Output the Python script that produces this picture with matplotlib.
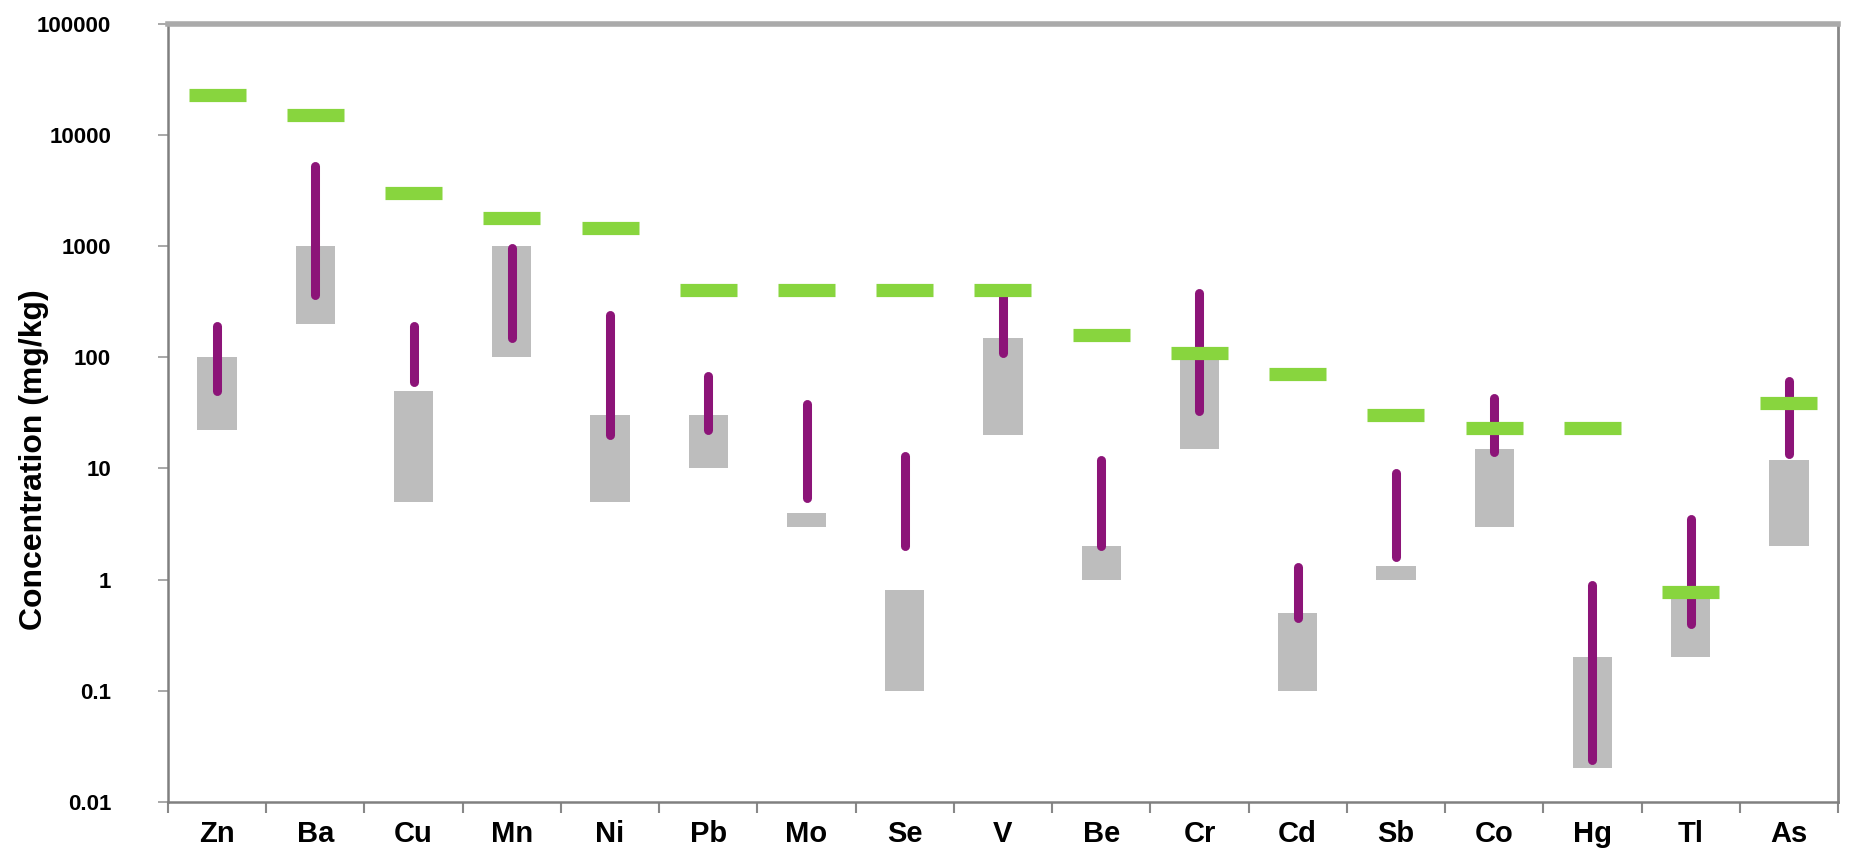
import matplotlib
matplotlib.use("Agg")
import matplotlib.pyplot as plt
import numpy as np

plt.rcParams['font.family'] = ['Liberation Sans', 'DejaVu Sans']

elements = ['Zn', 'Ba', 'Cu', 'Mn', 'Ni', 'Pb', 'Mo', 'Se', 'V', 'Be', 'Cr', 'Cd', 'Sb', 'Co', 'Hg', 'Tl', 'As']

# grey range bars (low, high)
gray_lo = [22, 200, 5, 100, 5, 10, 3, 0.1, 20, 1, 15, 0.1, 1, 3, 0.02, 0.2, 2]
gray_hi = [100, 1000, 50, 1000, 30, 30, 4, 0.8, 150, 2, 100, 0.5, 1.33, 15, 0.2, 0.7, 12]

# purple range lines (low, high)
purp_lo = [50, 360, 60, 150, 20, 22, 5.4, 2, 110, 2, 33, 0.45, 1.6, 14, 0.024, 0.4, 13.6]
purp_hi = [190, 5200, 190, 950, 240, 68, 38, 13, 390, 12, 380, 1.3, 9, 43, 0.9, 3.5, 61]

# green guideline values
green = [23000, 15000, 3000, 1800, 1450, 400, 400, 400, 400, 160, 110, 70, 30, 23, 23, 0.78, 39]

ytick_vals = [0.01, 0.1, 1, 10, 100, 1000, 10000, 100000]
ytick_labels = ['0.01', '0.1', '1', '10', '100', '1000', '10000', '100000']

fig = plt.figure(figsize=(18.5, 8.59), dpi=100)
ax = fig.add_axes([0.0908, 0.0664, 0.9027, 0.9061])

x = np.arange(len(elements))
lo = np.array(gray_lo)
hi = np.array(gray_hi)
ax.bar(x, hi - lo, bottom=lo, width=0.4, color='#bdbdbd', zorder=2)

ax.vlines(x, purp_lo, purp_hi, color='#8c1478', linewidth=6.5, capstyle='round', zorder=3)

ax.hlines(green, x - 0.29, x + 0.29, color='#88d53e', linewidth=9.5, zorder=4)

ax.set_yscale('log')
ax.set_ylim(0.01, 100000)
ax.set_xlim(-0.5, len(elements) - 0.5)
ax.set_yticks(ytick_vals)
ax.set_yticklabels(ytick_labels)
ax.yaxis.set_minor_locator(matplotlib.ticker.NullLocator())

ax.set_xticks(x)
ax.set_xticklabels(elements)
ax.set_xticks(np.arange(len(elements) + 1) - 0.5, minor=True)
ax.tick_params(axis='x', which='major', length=0, pad=13, labelsize=21)
ax.tick_params(axis='x', which='minor', length=8, width=1.5, color='#888888', direction='out')
ax.tick_params(axis='y', length=7, width=1.2, color='#999999', labelsize=16, pad=34)
for lab in ax.get_xticklabels():
    lab.set_fontweight('bold')
for lab in ax.get_yticklabels():
    lab.set_fontweight('bold')

ax.set_ylabel('Concentration (mg/kg)', fontsize=23, fontweight='bold')
ax.yaxis.set_label_coords(-0.071, 0.44)

for side in ['left', 'bottom']:
    ax.spines[side].set_color('#808080')
    ax.spines[side].set_linewidth(1.8)
ax.spines['top'].set_color('#aaaaaa')
ax.spines['top'].set_linewidth(4)
ax.spines['right'].set_color('#888888')
ax.spines['right'].set_linewidth(2)

fig.savefig('out.png', dpi=100)
